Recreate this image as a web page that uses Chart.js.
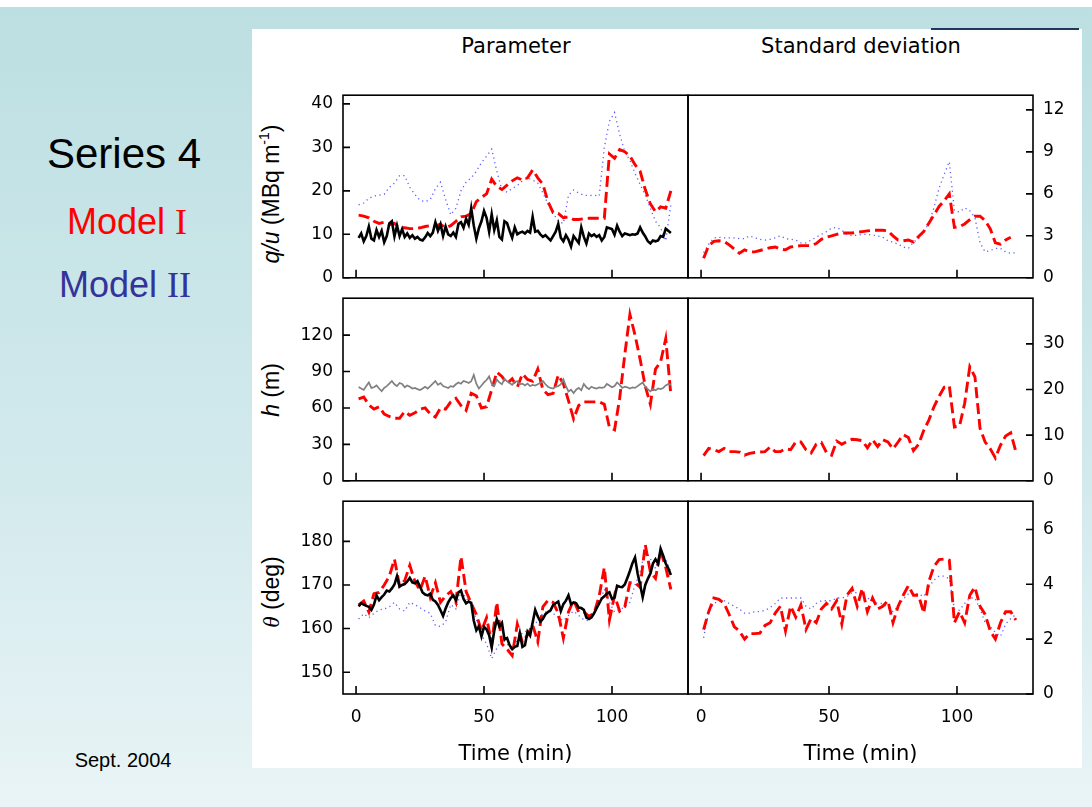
<!DOCTYPE html>
<html>
<head>
<meta charset="utf-8">
<script src="https://cdn.jsdelivr.net/npm/chart.js@4.4.0/dist/chart.umd.min.js"></script>
<style>
  html, body { margin: 0; padding: 0; }
  body {
    width: 1092px; height: 807px; position: relative; overflow: hidden;
    background: linear-gradient(#bcdfe2 0%, #d3eaed 60%, #e9f4f6 100%);
    font-family: "Liberation Sans", Arial, sans-serif;
  }
  .strip { position: absolute; left: 0; top: 0; width: 1092px; height: 7px; background: #fff; }
  .sheet { position: absolute; left: 252px; top: 29px; width: 830px; height: 739px; background: #fff; }
  .rule { position: absolute; left: 931px; top: 28px; width: 148px; height: 2px; background: #1d3a5c; }
  canvas { position: absolute; }
  .txt { position: absolute; white-space: nowrap; transform: translateX(-50%); }
  .head { font-family: "DejaVu Sans", sans-serif; font-size: 21px; line-height: 24px; top: 34px; color: #000; }
  .ylab { position: absolute; white-space: nowrap; font-size: 23px; color: #000;
          transform: translate(-50%, -50%) rotate(-90deg); }
  .ylab sup { font-size: 14px; vertical-align: 10px; line-height: 0; }
  .rn { font-family: "Liberation Serif", "Times New Roman", serif; }
  .greek { font-family: "Liberation Serif", serif; font-style: italic; }
</style>
</head>
<body>
<div class="strip"></div>
<div class="sheet"></div>
<div class="rule"></div>

<div class="txt" style="left:124px;top:133px;font-size:42px;line-height:42px;color:#000">Series 4</div>
<div class="txt" style="left:127px;top:204px;font-size:36px;line-height:36px;color:#ff0000">Model <span class="rn">I</span></div>
<div class="txt" style="left:125px;top:267px;font-size:36px;line-height:36px;color:#333399">Model <span class="rn">II</span></div>
<div class="txt" style="left:123px;top:749px;font-size:20px;line-height:22px;color:#000">Sept. 2004</div>

<div class="txt head" style="left:516px">Parameter</div>
<div class="txt head" style="left:861px">Standard deviation</div>

<div class="ylab" style="left:271px;top:194px"><i>q/u</i> (MBq m<sup>-1</sup>)</div>
<div class="ylab" style="left:271px;top:390px"><i>h</i> (m)</div>
<div class="ylab" style="left:271px;top:592px"><span class="greek">θ</span> (deg)</div>

<canvas id="qPar" width="445" height="223" style="left:253px;top:75px"></canvas>
<canvas id="qSd" width="414" height="223" style="left:678px;top:75px"></canvas>
<canvas id="hPar" width="445" height="223" style="left:253px;top:278px"></canvas>
<canvas id="hSd" width="414" height="223" style="left:678px;top:278px"></canvas>
<canvas id="thPar" width="445" height="287" style="left:253px;top:481px"></canvas>
<canvas id="thSd" width="414" height="287" style="left:678px;top:481px"></canvas>

<script>
// sampling times (min): every minute and every second minute
const minutes = Array.from({ length: 123 }, (_, i) => i + 1);
const minutes2 = Array.from({ length: 62 }, (_, i) => 2 * i + 1);

const timeTicks = [0, 50, 100];
const qTicks = [0, 10, 20, 30, 40];
const qSdTicks = [0, 3, 6, 9, 12];
const hTicks = [0, 30, 60, 90, 120];
const hSdTicks = [0, 10, 20, 30];
const thTicks = [150, 160, 170, 180];
const thSdTicks = [0, 2, 4, 6];

// q/u parameter
const qMeasured = [9.2,10.2,8.4,9.6,11.8,9,8.6,11,9.4,10.8,
  8.2,9.6,12.5,13,9.5,12,9.6,11.2,9.4,10.2,
  9.2,9.8,9,9.4,8.8,8.6,9.3,10.3,9.6,10.4,
  12.8,10.8,12.3,9.6,11.8,10,9.6,10.4,9.4,12.4,
  12.8,11.5,13.6,12.2,16,12,9,11.4,13,15.4,
  13.8,10.6,14.6,11,13.2,9.4,8.8,13,12.6,10.8,
  9.2,11.6,10,10.4,10.6,10.2,10.8,10.4,14,10.6,
  10.8,10,9.4,9.8,9.2,8.6,9.6,10.6,12.4,9.2,
  8.4,9.8,8.8,7.2,9.6,8.8,8,11.6,9.4,7.9,
  10.2,9.6,10,9.4,9.8,8.6,9.4,11.6,11.4,11.2,
  9.9,12,10.6,9.6,10.2,10,9.8,10,9.9,10.2,
  11.6,10.4,9.5,8.4,7.9,8.6,8.4,8.6,9.6,9.4,
  11.3,10.8,10.3];
const qModel1 = [14.4,14.2,13.8,13,12.5,12.8,12.2,12.5,11.5,11.5,
  11.3,11.3,11.5,11.8,12,12,12.3,11.5,12,13,
  14,14.2,14.8,17.5,18.5,19.3,22.7,21,20.3,21.3,
  22.3,23,22.5,23,24.8,23,21.5,17.5,15,14.8,
  13.8,14,13.4,13.4,13.6,13.7,13.7,13.7,13.7,28.5,
  27.5,29.5,29,28,26,24.5,20.3,17,15.2,16.3,
  16,20];
const qModel2 = [16.8,17.2,18.3,18.8,19,19.2,20.8,21.8,23.5,23.5,
  20.8,19.2,17.8,17.5,18,20.5,22,18,14.5,16,
  20,22,23,24.5,26.5,28,29.6,24.5,20.3,19.7,
  20.5,21.2,22.3,23,22.5,21.8,19.5,17,14.8,13,
  12.5,19,20.2,19.5,19,18.9,19,18.8,30,36,
  38,33,29,27,24,21.5,19,16,13,11.5,
  8.5,16.8];

// q/u standard deviation
const qSdModel1 = [1.4,2.3,2.6,2.65,2.6,2.35,2.05,1.75,2.0,1.85,
  1.85,1.95,2.05,2.15,2.2,2.05,2.0,2.2,2.25,2.3,
  2.3,2.3,2.45,2.75,2.9,3.0,3.1,3.2,3.2,3.2,
  3.25,3.3,3.35,3.4,3.4,3.4,3.35,3.0,2.7,2.65,
  2.7,2.55,2.95,3.3,3.9,4.5,5.1,5.5,6.0,3.6,
  3.65,3.85,4.15,4.4,4.4,4.1,3.5,2.5,2.4,2.7,
  2.9];
const qSdModel2 = [1.8,2.4,2.85,2.9,2.85,2.85,2.85,2.8,2.8,3.0,
  2.85,2.75,2.7,2.75,2.85,3.0,2.8,2.75,2.7,2.5,
  2.5,2.7,2.9,3.1,3.3,3.55,3.6,3.4,3.1,3.0,
  3.05,3.1,3.1,3.05,3.0,2.9,2.65,2.55,2.4,2.2,
  2.1,2.55,2.8,3.25,3.9,5.0,6.4,7.4,8.3,4.8,
  4.7,5.0,4.8,4.3,2.5,1.85,1.95,2.1,2.1,1.85,
  1.75,1.8];

// h parameter
const hMeasured = [77.3,76,74.8,78,81,76.5,77,78.5,76,73.8,
  76.5,78,80,82.2,79.5,78,80.5,79.8,77,78.5,
  77.5,76,76.5,75.5,74.8,76,77.5,76,78,80,
  82.2,79,80.5,78,77.3,76.5,78,77.5,79.5,81,
  80,82.2,81.5,80.5,82,87.2,80,76,78.5,81,
  83,86,80,78,83.5,81,79.5,84,82,80.5,
  79,81.5,82,79.5,80,78.5,80,78,79,78.5,
  79.5,80.5,82.2,79.5,77.5,76.5,76,77.5,78,79.5,
  83.5,78,73.6,75,72.3,75,76.5,74.5,79.8,77,
  75.5,77.5,76.5,76,77,76.5,77,79.8,78.5,77,
  78,81,79,76.5,77.5,77,76,77,76.5,78,
  79.5,81,77.5,75.5,73.6,75.5,74.5,76,75.5,76.5,
  78.5,79.8,79];
const hModel1 = [67.4,69,62.5,59,61,55,53,51.5,51.5,57,
  54,56,59,60,55,52.5,60,59,65,68,
  62,58,72,70,60,61,75,89.5,86,80,
  84,77,88,83.5,82,92,75,71,72,87,
  80,66,51,62,65,65,65,65,63,44,
  42,68,104,137,120,100,78,63,92,98,
  117,71];

// h standard deviation
const hSdModel1 = [5.5,7.1,6.8,6.4,7.1,6.4,6.4,6.3,5.6,6,
  6.2,6.3,6.4,7.4,6.4,6.4,7,6.8,8.5,8.5,
  6.8,6.1,8,8.4,6.2,5.6,8.7,8,8.6,9.1,
  9,8.8,7.2,9.0,7.5,9.0,8.5,7.0,8.5,10.1,
  9.5,6.6,8,11,13.3,16.2,18.5,20.5,20.8,11.8,
  12,17,25,22.8,11.5,8.5,7,5,7.8,9.8,
  10.5,6.4];

// theta parameter
const thMeasured = [165.1,165.8,165.5,165.2,165,164.3,165.5,167.6,166.5,167.2,
  167.8,168.7,168.5,169.2,170.1,172,169.6,170,170.2,170.8,
  171.6,170.6,170.4,170.9,169.6,168.3,167.8,167.6,168,166.6,
  166.2,165.4,164.2,162.9,164.6,166,167,167.6,166.5,168.3,
  168.7,166.8,165.8,166.2,165.9,161.8,159.6,160.5,158.2,160.4,
  159.8,158.5,155.7,159.5,162.2,160.5,161.3,157.5,157.8,156.2,
  155.3,155.8,156,158.9,155.8,156.2,159.3,158.4,161.4,164.3,
  162.8,161.6,162.2,163.3,163.8,164.2,165.4,165.8,166.2,164,
  165.6,166.4,167.6,165.6,166,165.8,164.8,164.7,164.3,162.5,
  162.2,162.6,163.5,164.7,165.8,166.9,167.4,168,168.3,166.8,
  167.1,169.8,169.6,169.5,170.1,171.6,173.2,175,176.3,172.7,
  170,167.2,170,171.4,172.6,174.9,175.9,174.9,178.3,176.7,
  174.9,173.8,172.3];
const thModel1 = [165.4,166.3,163.8,168,168.3,170,172,175.9,169.8,171,
  174.5,170.8,168.8,172,167.2,170.5,166,167.5,168.5,166,
  176.5,168.5,165.8,163.2,159.5,162.5,156.5,166,156.5,155.3,
  153.8,161,156.8,158.5,160.8,157,165,166.5,166,163.5,
  157.8,163.8,166.5,163.8,163.8,162.8,163.5,167.5,174,162,
  167.6,164,165,170.5,170.5,169.5,179.2,173,171.5,177.8,
  174,169];
const thModel2 = [162.2,163.4,162.5,163.5,164.3,164.5,165,166,164.5,164,
  166,165.5,164.8,164,163.5,160.7,160.5,161.5,165.5,164.5,
  168.5,167,165.5,162,158.5,156.5,153.1,155.5,157.5,156.5,
  154.8,157.5,159,159.5,160.5,161.8,163.5,164,163.5,162.5,
  161.8,163,164,163,162,161.8,163.5,165.8,169,166,
  163.8,164.3,165,166,170,173,178,176,173.8,177.5,
  176,173];

// theta standard deviation
const thSdModel1 = [2.35,3.0,3.5,3.45,3.3,2.9,2.45,2.3,2.0,2.2,
  2.2,2.22,2.5,2.6,2.95,3.2,2.3,3.2,2.8,3.25,
  2.35,2.75,2.6,3.1,3.3,3.1,3.4,2.55,3.6,3.85,
  3.2,3.85,3.0,3.5,3.1,3.2,3.4,2.6,3.2,3.6,
  3.95,3.6,3.6,2.95,4.1,4.65,4.9,4.92,4.88,2.6,
  3.0,2.6,3.6,3.9,3.2,2.9,2.3,2.0,2.6,3.0,
  3.0,2.7];
const thSdModel2 = [2.05,3.0,3.3,3.4,3.4,3.3,3.2,3.1,2.95,2.95,
  3.0,3.0,3.05,3.15,3.3,3.5,3.5,3.5,3.5,3.5,
  3.2,3.1,3.3,3.4,3.4,3.4,3.5,3.5,3.55,3.7,
  3.7,3.6,3.5,3.4,3.3,3.3,3.15,3.0,3.2,3.45,
  3.65,3.7,3.65,3.55,3.9,4.15,4.3,4.3,4.2,3.1,
  3.05,3.3,3.5,3.5,3.1,2.6,2.45,2.25,2.1,2.55,
  2.75,2.9];

const tickFont = { family: 'DejaVu Sans', size: 17 };

function pts(xs, ys) {
  return ys.map((y, i) => ({ x: xs[i], y: y }));
}
function black(xs, ys) {
  return { data: pts(xs, ys), borderColor: '#000', borderWidth: 2.6 };
}
function grey(xs, ys) {
  return { data: pts(xs, ys), borderColor: '#808080', borderWidth: 1.7 };
}
function red(xs, ys) {
  return { data: pts(xs, ys), borderColor: '#ff0000', borderWidth: 2.9, borderDash: [11, 5] };
}
function blue(xs, ys) {
  return { data: pts(xs, ys), borderColor: 'rgba(20,20,255,0.7)', borderWidth: 1.3, borderDash: [1.2, 3.5] };
}

// box round the plot area, ticks pointing inwards
const frame = {
  id: 'frame',
  afterDatasetsDraw(chart) {
    const { ctx, chartArea: a, scales } = chart;
    const onRight = scales.y.position === 'right';
    ctx.save();
    ctx.strokeStyle = '#000';
    ctx.lineWidth = 1.6;
    ctx.strokeRect(a.left, a.top, a.right - a.left, a.bottom - a.top);
    ctx.beginPath();
    scales.x.ticks.forEach(t => {
      const px = scales.x.getPixelForValue(t.value);
      ctx.moveTo(px, a.bottom);
      ctx.lineTo(px, a.bottom - 8);
    });
    scales.y.ticks.forEach(t => {
      const py = scales.y.getPixelForValue(t.value);
      const x0 = onRight ? a.right : a.left;
      ctx.moveTo(x0, py);
      ctx.lineTo(onRight ? x0 - 7 : x0 + 7, py);
    });
    ctx.stroke();
    ctx.restore();
  }
};

function panel(id, cfg) {
  const right = cfg.right;
  const bottom = cfg.bottom;
  return new Chart(document.getElementById(id), {
    type: 'line',
    data: { datasets: cfg.datasets },
    options: {
      responsive: false,
      animation: false,
      devicePixelRatio: 1,
      layout: { padding: { top: 10, bottom: bottom ? 0 : 10, left: right ? 10 : 0, right: right ? 0 : 10 } },
      plugins: { legend: { display: false }, tooltip: { enabled: false } },
      elements: { point: { radius: 0 }, line: { tension: 0, fill: false } },
      scales: {
        x: {
          type: 'linear', min: -5.1, max: 129.7,
          grid: { display: false, drawTicks: false }, border: { display: false },
          afterBuildTicks: s => { s.ticks = timeTicks.map(v => ({ value: v })); },
          afterFit: s => { s.height = bottom ? 74 : 0; },
          ticks: { display: !!bottom, padding: 13, color: '#000', font: tickFont, maxRotation: 0 },
          title: { display: !!bottom, text: 'Time (min)', color: '#000',
                   font: { family: 'DejaVu Sans', size: 21 }, padding: { top: 0, bottom: 1 } }
        },
        y: {
          type: 'linear', position: right ? 'right' : 'left', min: cfg.min, max: cfg.max,
          grid: { display: false, drawTicks: false }, border: { display: false },
          afterBuildTicks: s => { s.ticks = cfg.ticks.map(v => ({ value: v })); },
          afterFit: s => { s.width = right ? 59 : 90; },
          ticks: { padding: 10, color: '#000', font: tickFont }
        }
      }
    },
    plugins: [frame]
  });
}

panel('qPar', { min: 0, max: 42, ticks: qTicks,
  datasets: [black(minutes, qMeasured), red(minutes2, qModel1), blue(minutes2, qModel2)] });
panel('qSd', { right: true, min: 0, max: 13.05, ticks: qSdTicks,
  datasets: [red(minutes2, qSdModel1), blue(minutes2, qSdModel2)] });
panel('hPar', { min: 0, max: 150.4, ticks: hTicks,
  datasets: [grey(minutes, hMeasured), red(minutes2, hModel1)] });
panel('hSd', { right: true, min: 0, max: 40, ticks: hSdTicks,
  datasets: [red(minutes2, hSdModel1)] });
panel('thPar', { bottom: true, min: 145, max: 189.2, ticks: thTicks,
  datasets: [black(minutes, thMeasured), red(minutes2, thModel1), blue(minutes2, thModel2)] });
panel('thSd', { right: true, bottom: true, min: 0, max: 7.03, ticks: thSdTicks,
  datasets: [red(minutes2, thSdModel1), blue(minutes2, thSdModel2)] });
</script>
</body>
</html>
